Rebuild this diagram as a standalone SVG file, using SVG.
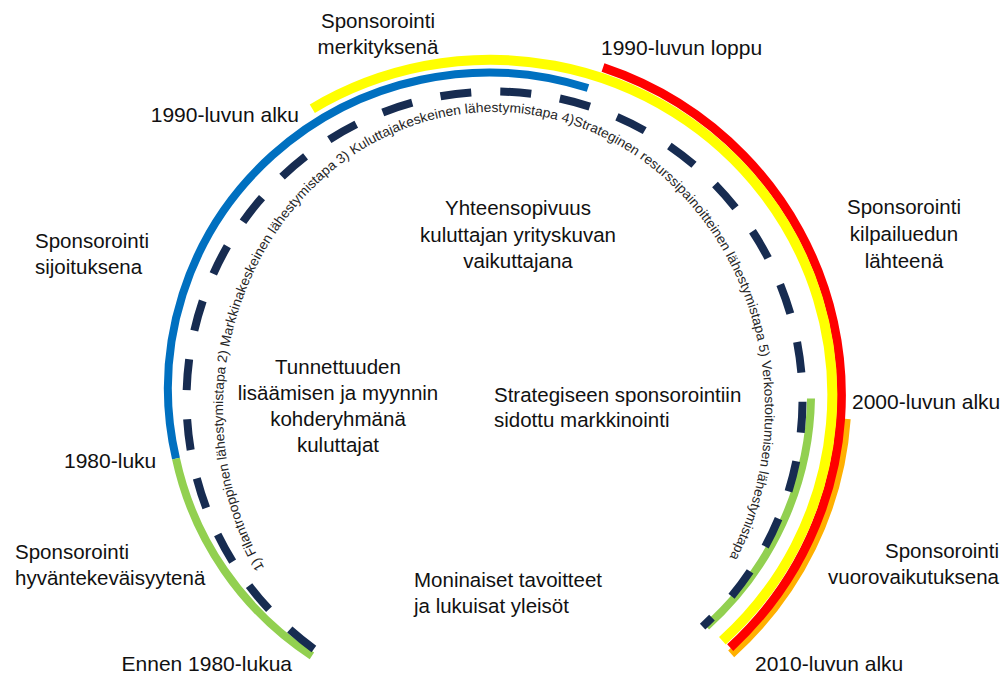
<svg xmlns="http://www.w3.org/2000/svg" width="1005" height="677" viewBox="0 0 1005 677">
<style>
.lbl{font-family:"Liberation Sans",Arial,sans-serif;font-size:21px;fill:#111}
.ml{font-size:20.5px}
.arc{fill:none;stroke-linecap:butt}
.curv{font-family:"Liberation Sans",Arial,sans-serif;font-size:13.5px;fill:#262626}
</style>
<defs>
<path id="textArc" d="M264.2,567.9 A271,298 0 1 1 724.8,566.1"/>
</defs>
<rect width="1005" height="677" fill="#fff"/>
<g id="connectors">
<path id="orange" class="arc" stroke="#FFB000" stroke-width="9" d="M846.2,418.9 A357,351 0 0 1 731.2,653.8"/>
<path id="red" class="arc" stroke="#FF0000" stroke-width="9" d="M603,67.5 A351.5,346 0 0 1 730.2,647.6"/>
<path id="yellow" class="arc" stroke="#FFFF00" stroke-width="10" d="M312.3,108.7 A342,335 0 0 1 722.4,640.8"/>
<path id="blue" class="arc" stroke="#0070C0" stroke-width="8" d="M176,458.7 A321,316 0 0 1 588,88"/>
<path id="greenLeft" class="arc" stroke="#92D050" stroke-width="8" d="M311.9,655.9 A321,316 0 0 1 176,458.7"/>
<path id="greenRight" class="arc" stroke="#92D050" stroke-width="8" d="M811,398.5 A321,316 0 0 1 706.4,626.4"/>
<path id="dashed" class="arc" stroke="#172C51" stroke-width="8" stroke-dasharray="31 29" d="M313.9,649 A308,308 0 1 1 702.6,626.6"/>
</g>
<g id="approaches">
<text class="curv"><textPath href="#textArc" textLength="1212" lengthAdjust="spacingAndGlyphs">1) Filantrooppinen lähestymistapa 2) Markkinakeskeinen lähestymistapa 3) Kuluttajakeskeinen lähestymistapa 4)Strateginen resurssipainoitteinen lähestymistapa 5) Verkostoitumisen lähestymistapa</textPath></text>
</g>
<g id="n-merkityksena"><text class="lbl ml" text-anchor="middle"><tspan x="378" y="28">Sponsorointi</tspan><tspan x="378" y="54">merkityksenä</tspan></text></g>
<g id="n-1990-loppu"><text class="lbl" x="601" y="55">1990-luvun loppu</text></g>
<g id="n-1990-alku"><text class="lbl" x="299" y="122" text-anchor="end">1990-luvun alku</text></g>
<g id="n-sijoituksena"><text class="lbl ml"><tspan x="35" y="248">Sponsorointi</tspan><tspan x="35" y="274">sijoituksena</tspan></text></g>
<g id="n-yhteensopivuus"><text class="lbl ml" text-anchor="middle"><tspan x="518" y="215">Yhteensopivuus</tspan><tspan x="518" y="242">kuluttajan yrityskuvan</tspan><tspan x="518" y="268">vaikuttajana</tspan></text></g>
<g id="n-kilpailuedun"><text class="lbl ml" text-anchor="middle"><tspan x="904" y="214">Sponsorointi</tspan><tspan x="904" y="241">kilpailuedun</tspan><tspan x="904" y="268">lähteenä</tspan></text></g>
<g id="n-tunnettuuden"><text class="lbl ml" text-anchor="middle"><tspan x="338" y="374">Tunnettuuden</tspan><tspan x="338" y="400">lisäämisen ja myynnin</tspan><tspan x="338" y="426">kohderyhmänä</tspan><tspan x="338" y="452">kuluttajat</tspan></text></g>
<g id="n-strategiseen"><text class="lbl ml"><tspan x="494" y="402">Strategiseen sponsorointiin</tspan><tspan x="494" y="427">sidottu markkinointi</tspan></text></g>
<g id="n-2000-alku"><text class="lbl" x="852" y="409">2000-luvun alku</text></g>
<g id="n-1980-luku"><text class="lbl" x="64" y="468">1980-luku</text></g>
<g id="n-hyvantekevaisyytena"><text class="lbl ml"><tspan x="15" y="559">Sponsorointi</tspan><tspan x="15" y="585">hyväntekeväisyytenä</tspan></text></g>
<g id="n-moninaiset"><text class="lbl ml"><tspan x="414" y="587">Moninaiset tavoitteet</tspan><tspan x="414" y="613">ja lukuisat yleisöt</tspan></text></g>
<g id="n-vuorovaikutuksena"><text class="lbl ml" text-anchor="end"><tspan x="999" y="558">Sponsorointi</tspan><tspan x="999" y="584">vuorovaikutuksena</tspan></text></g>
<g id="n-ennen-1980"><text class="lbl" x="292" y="671" text-anchor="end">Ennen 1980-lukua</text></g>
<g id="n-2010-alku"><text class="lbl" x="755" y="671">2010-luvun alku</text></g>
</svg>
